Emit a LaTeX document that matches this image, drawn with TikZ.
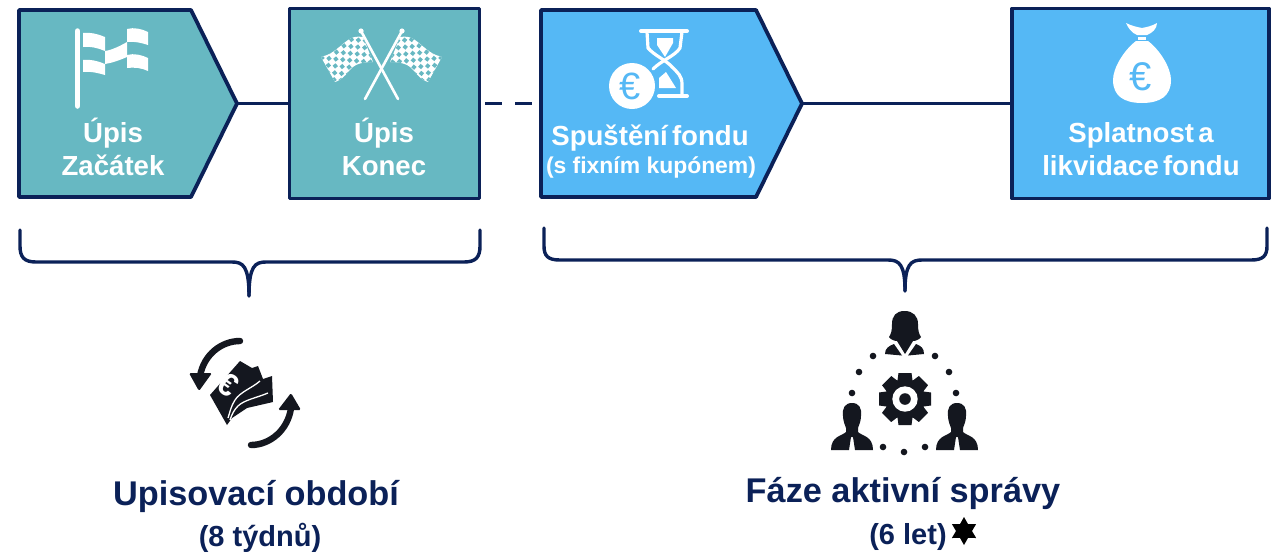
\documentclass[tikz,border=0pt]{standalone}
\usepackage{fontspec}
\setmainfont{Liberation Sans}[BoldFont={Liberation Sans Bold}]
\usetikzlibrary{shapes.symbols,shapes.geometric}
\definecolor{navy}{HTML}{0B2158}
\definecolor{tealbox}{HTML}{67B8C2}
\definecolor{bluebox}{HTML}{55B8F5}
\definecolor{ink}{HTML}{14171F}
\newcommand{\fs}[1]{\fontsize{#1}{#1}\selectfont\bfseries}
\newcommand{\tsp}{\hspace{.15em}}
\tikzset{
  box/.style={draw=navy,line width=3.8pt,line join=round,inner sep=0pt,outer sep=0pt},
  rectbox/.style={box,rectangle,minimum width=#1,minimum height=190pt},
  arrowbox/.style={box,signal,signal to=east,signal pointer angle=127.6,minimum width=#1,minimum height=187pt},
  wlabel/.style={text=white,font=\fs{27.6},inner sep=0pt,anchor=base},
  wsmall/.style={text=white,font=\fs{22.9},inner sep=0pt,anchor=base},
  title/.style={text=navy,font=\fs{34.3},inner sep=0pt,anchor=base},
  subtitle/.style={text=navy,font=\fs{29},inner sep=0pt,anchor=base},
  link/.style={draw=navy,line width=3.6pt},
  brace/.style={draw=navy,line width=3.4pt,line cap=round},
  whiteline/.style={draw=white,line cap=round,line join=round},
  dotmark/.style={circle,fill=ink,inner sep=0pt,minimum size=6.6pt},
  euro/.style={font=\fontsize{#1}{#1}\selectfont,inner sep=0pt},
}
\begin{document}
\begin{tikzpicture}[x=1pt,y=-1pt]
\useasboundingbox[fill=white] (0,0) rectangle (1281,552);
\node[arrowbox=218pt,fill=tealbox,anchor=west] (b1) at (19,103.5) {};
\node[rectbox=190pt,fill=tealbox] (b2) at (384.5,103.5) {};
\node[arrowbox=261pt,fill=bluebox,anchor=west] (b3) at (541,103.5) {};
\node[rectbox=257pt,fill=bluebox] (b4) at (1140.5,103.5) {};
\coordinate (dashA) at (485,103.5);
\draw[link] (b1.east) -- (b2.west);
\draw[link,dash pattern=on 17pt off 13pt] (dashA) -- (b3.west);
\draw[link] (b3.east) -- (b4.west);
% texts
\node[wlabel] (t1a) at (113,142) {Úpis};
\node[wlabel] (t1b) at (113,175) {Začátek};
\node[wlabel] (t2a) at (384,142) {Úpis};
\node[wlabel] (t2b) at (384,175.5) {Konec};
\node[wlabel] (t3a) at (650,145) {Spuštění\tsp fondu};
\node[wsmall] (t3b) at (651,173) {(s fixním kupónem)};
\node[wlabel] (t4a) at (1141,142) {Splatnost\tsp a};
\node[wlabel] (t4b) at (1141,175) {likvidace\tsp fondu};
\node[title] (t5a) at (256,505.5) {Upisovací období};
\node[subtitle] (t5b) at (260,546) {(8 týdnů)};
\node[title] (t6a) at (903,502) {Fáze aktivní správy};
\node[subtitle] (t6b) at (908,544) {(6 let)};
\node[star,star points=6,star point ratio=1.75,fill=black,inner sep=0pt,minimum size=28pt] (st) at (964,531) {};
% braces
\draw[brace] (20,230) -- (20,246) .. controls (20,257) and (24,262) .. (36,262) -- (232,262)
  .. controls (243,262) and (249,266) .. (249,296);
\draw[brace] (480,230) -- (480,246) .. controls (480,257) and (476,262) .. (464,262) -- (266,262)
  .. controls (255,262) and (249,266) .. (249,296);
\draw[brace] (544,228) -- (544,246) .. controls (544,256) and (548,260) .. (560,260) -- (888,260)
  .. controls (899,260) and (905,264) .. (905,291);
\draw[brace] (1267,228) -- (1267,246) .. controls (1267,256) and (1263,260) .. (1251,260) -- (922,260)
  .. controls (911,260) and (905,264) .. (905,291);
% flag icon
\draw[whiteline,line width=5.5pt] (77.5,31) -- (77.5,106);
\fill[white] (83,33) .. controls (90,32) and (98,34) .. (105,37) -- (105,51) .. controls (98,48) and (90,46) .. (83,47) -- cycle;
\fill[white] (105,51) .. controls (112,50) and (120,46) .. (127,42) -- (127,57) .. controls (120,60) and (112,63) .. (105,64) -- cycle;
\fill[white] (127,29) .. controls (134,27) and (142,29) .. (148,32) -- (148,45) .. controls (142,43) and (134,41) .. (127,42) -- cycle;
\fill[white] (83,60) .. controls (90,59) and (98,61) .. (105,64) -- (105,75) .. controls (98,73) and (90,71) .. (83,72) -- cycle;
\fill[white] (127,55) .. controls (134,53) and (142,55) .. (148,58) -- (148,71) .. controls (142,68) and (134,67) .. (127,68) -- cycle;
% crossed flags
\foreach \sx/\tx in {1/0,-1/763}{
\begin{scope}[xscale=\sx,xshift=\sx*\tx]
  \draw[whiteline,line width=2.6pt] (398,99) -- (361,31);
  \fill[white] (361,31) circle (2.6pt);
  \begin{scope}
    \clip (363,37) .. controls (357,36) and (352,37) .. (348,40) .. controls (342,44) and (338,49) .. (331,53)
      .. controls (328,55) and (324,56) .. (321,57) -- (335,82) .. controls (340,81) and (345,76) .. (349,71)
      .. controls (353,66) and (358,62) .. (373,62) -- cycle;
    \fill[white] (315,25) rectangle (385,90);
    \foreach \i in {0,...,15}{\foreach \j in {0,...,15}{
      \pgfmathparse{int(mod(\i+\j,2))}
      \ifnum\pgfmathresult=0
        \fill[tealbox,shift={(347,60)},rotate=40] ({(\i-8)*4.9},{(\j-8)*4.9}) rectangle ++(3.8,3.8);
      \fi
    }}
  \end{scope}
\end{scope}}
% hourglass
\draw[whiteline,line width=4pt] (641,31) -- (687,31) (659,96) -- (687,96);
\draw[whiteline,line width=3.2pt,line join=round] (647,32) -- (648,48) .. controls (655,56) and (666,60) .. (672,67) .. controls (678,73) and (682,76) .. (682,84) -- (682,96);
\draw[whiteline,line width=3.2pt,line join=round] (682,32) -- (680,48) .. controls (675,56) and (662,60) .. (653,69);
\fill[white] (657,38) -- (673,38) -- (673,43) -- (665,57) -- (657,45) -- cycle;
\fill[white] (666,72) -- (676,88) -- (659,88) -- (659,78) -- cycle;
\node[circle,fill=white,minimum size=46pt,inner sep=0pt] (coin) at (632,86) {};
\node[text=bluebox,euro=38] (coine) at (630,86) {€};
% money bag
\fill[white] (1136,41) .. controls (1124,50) and (1113,68) .. (1113,80) .. controls (1113,96) and (1124,103) .. (1142,103)
  .. controls (1160,103) and (1171,96) .. (1171,80) .. controls (1171,68) and (1160,50) .. (1148,41) -- cycle;
\fill[white] (1138,37) rectangle (1146,39.5);
\fill[white] (1126,23) .. controls (1132,26) and (1137,27) .. (1142,28) .. controls (1147,27) and (1152,26) .. (1157,23)
  .. controls (1157,29) and (1152,33) .. (1147,35) -- (1137,35) .. controls (1132,33) and (1128,28) .. (1126,23) -- cycle;
\node[text=bluebox,euro=40] (bage) at (1141,77) {€};
% cash icon
\draw[ink,line width=6.4pt,line cap=round] (240,341) .. controls (222,341) and (204,354) .. (200,376);
\fill[ink,rounded corners=1.5pt] (189,373) -- (212,373) -- (199,391) -- cycle;
\draw[ink,line width=6.4pt,line cap=round] (251,445) .. controls (270,445) and (288,430) .. (291,408);
\fill[ink,rounded corners=1.5pt] (278,410) -- (301,410) -- (291,393) -- cycle;
\fill[ink] (240,361) -- (252,368) -- (258,366) -- (263,379) -- (272,376) -- (273,402) -- (247,408) -- (232,418) -- (227,425) -- (210,395) -- cycle;
\draw[white,line width=1.3pt] (260,381) .. controls (252,388) and (240,392) .. (235,400) .. controls (231,406) and (230,412) .. (228,418);
\draw[white,line width=1.3pt] (268,393) .. controls (256,398) and (244,400) .. (238,406) .. controls (234,410) and (232,414) .. (230,420);
\node[text=white,font=\fs{32},inner sep=0pt,rotate=-35] (cashe) at (228,385) {€};
% woman
\fill[ink] (904.5,311) .. controls (896,311) and (892,316) .. (892,324) .. controls (892,331) and (891,334) .. (889,337)
  .. controls (891,340) and (895,341) .. (897,341) -- (905,354) -- (913,341)
  .. controls (915,341) and (919,340) .. (921,337) .. controls (919,334) and (918,331) .. (918,324)
  .. controls (918,316) and (913,311) .. (904.5,311) -- cycle;
\fill[ink] (894,344) .. controls (889,346) and (885,348) .. (885,354) -- (902,355.5) -- cycle;
\fill[ink] (916,344) .. controls (921,346) and (924,348) .. (924,354) -- (908,355.5) -- cycle;
% gear
\fill[ink] (905,399) circle (20pt);
\foreach \a in {0,45,...,315}{
  \fill[ink,rotate around={\a:(905,399)}] (898.5,373) -- (911.5,373) -- (913,384) -- (897,384) -- cycle;
}
\fill[white] (905,399) circle (12.7pt);
\fill[ink] (905,399) circle (5.8pt);
% men
\foreach \cx in {852,957}{
  \fill[ink] (\cx,403) .. controls ({\cx+7},403) and ({\cx+10},408) .. ({\cx+9},416) .. controls ({\cx+9},421) and ({\cx+7},425) .. ({\cx+6},428)
    -- ({\cx+6},432) .. controls ({\cx+10},436) and ({\cx+21},436) .. ({\cx+21},450) -- ({\cx+3},450) -- ({\cx+1},437) -- ({\cx-1},437) -- ({\cx-3},450)
    -- ({\cx-21},450) .. controls ({\cx-21},436) and ({\cx-10},436) .. ({\cx-6},432) -- ({\cx-6},428)
    .. controls ({\cx-7},425) and ({\cx-9},421) .. ({\cx-9},416) .. controls ({\cx-10},408) and ({\cx-7},403) .. (\cx,403) -- cycle;
}
% dots
\foreach \n/\px/\py in {a/873/356,b/859/372,c/852/393,d/935/356,e/949/372,f/956/393,g/883/447,h/904/452,i/925/447}{
  \node[dotmark] (dot\n) at (\px,\py) {};
}
\end{tikzpicture}
\end{document}
